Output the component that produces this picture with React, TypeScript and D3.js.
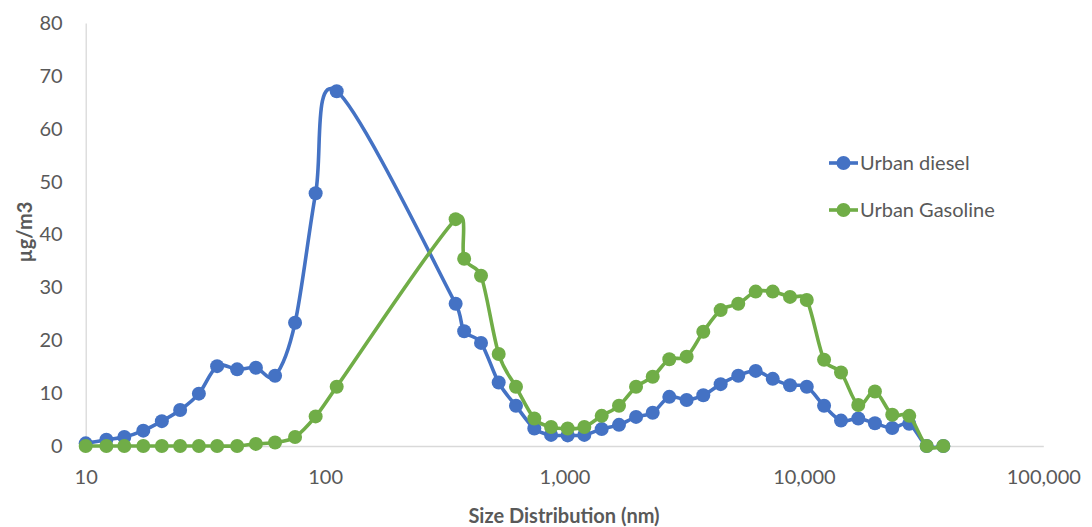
import { useEffect, useRef } from 'react';
import * as d3 from 'd3';

// particle size bins (nm), shared by both series
const sizes = [
  10, 12.2, 14.5, 17.4, 20.8, 24.8, 29.7, 35.4, 42.9, 51.4, 61.8, 74.9, 91.3, 111.8,
  351, 381, 448, 531, 627, 748, 879, 1031, 1210, 1430, 1689, 1990, 2336, 2740, 3237,
  3800, 4490, 5318, 6290, 7410, 8750, 10280, 12140, 14290, 16870, 19800, 23390, 27540,
  32570, 38220
];

const dieselValues = [
  0.5, 1.2, 1.7, 2.9, 4.7, 6.8, 9.9, 15.1, 14.5, 14.8, 13.3, 23.3, 47.8, 67.1,
  26.9, 21.7, 19.5, 12.0, 7.6, 3.3, 2.1, 2.0, 2.1, 3.2, 4.0, 5.5, 6.3, 9.3, 8.7,
  9.6, 11.7, 13.3, 14.2, 12.7, 11.5, 11.2, 7.6, 4.8, 5.2, 4.3, 3.4, 4.2,
  0, 0
];

const gasolineValues = [
  0, 0, 0, 0, 0, 0, 0, 0, 0, 0.4, 0.65, 1.7, 5.6, 11.2,
  42.9, 35.4, 32.2, 17.4, 11.2, 5.2, 3.6, 3.3, 3.6, 5.7, 7.6, 11.2, 13.1, 16.4, 16.9,
  21.6, 25.7, 26.9, 29.2, 29.2, 28.2, 27.6, 16.3, 13.9, 7.75, 10.3, 5.9, 5.7,
  0, 0
];

const xTicks = [10, 100, 1000, 10000, 100000];
const yTicks = [0, 10, 20, 30, 40, 50, 60, 70, 80];

const seriesNames = ['Urban diesel', 'Urban Gasoline'];
const seriesColors = ['#4472C4', '#70AD47'];

const FONT = 'Lato, "Open Sans", sans-serif';
const TEXT = '#595959';

// spreadsheet-style smoothed line: bezier handles of 1/6 of the neighbour chord,
// capped at half the segment length
function smoothCurve(context: d3.Path | CanvasRenderingContext2D) {
  let pts: [number, number][] = [];
  const dist = (a: [number, number], b: [number, number]) => Math.hypot(b[0] - a[0], b[1] - a[1]);
  return {
    areaStart() {},
    areaEnd() {},
    lineStart() { pts = []; },
    point(x: number, y: number) { pts.push([x, y]); },
    lineEnd() {
      const n = pts.length;
      if (!n) return;
      context.moveTo(pts[0][0], pts[0][1]);
      for (let i = 0; i < n - 1; i++) {
        const p0 = pts[Math.max(i - 1, 0)];
        const p1 = pts[i];
        const p2 = pts[i + 1];
        const p3 = pts[Math.min(i + 2, n - 1)];
        const d12 = dist(p1, p2);
        const d02 = dist(p0, p2);
        const d13 = dist(p1, p3);
        let f1 = 1 / 6;
        let f2 = 1 / 6;
        if (d02 / 6 > d12 / 2 && d02 > 0) f1 = d12 / d02 / 2;
        if (d13 / 6 > d12 / 2 && d13 > 0) f2 = d12 / d13 / 2;
        context.bezierCurveTo(
          p1[0] + (p2[0] - p0[0]) * f1, p1[1] + (p2[1] - p0[1]) * f1,
          p2[0] - (p3[0] - p1[0]) * f2, p2[1] - (p3[1] - p1[1]) * f2,
          p2[0], p2[1]
        );
      }
    }
  };
}

export default function App() {
  const svgRef = useRef<SVGSVGElement | null>(null);

  useEffect(() => {
    const svgElement = svgRef.current;
    if (!svgElement) return;
    const width = 1092;
    const height = 527;
    const svg = d3.select(svgElement);
    svg.selectAll('*').remove();
    svg.attr('viewBox', `0 0 ${width} ${height}`);

    const x = d3.scaleLog().domain([10, 100000]).range([85.7, 1043.3]);
    const y = d3.scaleLinear().domain([0, 80]).range([446, 23]);

    // axes
    const xAxis = svg.append('g').attr('transform', `translate(0,${y(0)})`)
      .call(d3.axisBottom(x).tickValues(xTicks).tickSize(0).tickPadding(24).tickFormat((d) => d3.format(',')(d as number)));
    const yAxis = svg.append('g').attr('transform', `translate(${x(10)},0)`)
      .call(d3.axisLeft(y).tickValues(yTicks).tickSize(0).tickPadding(23));
    [xAxis, yAxis].forEach((g) => {
      g.select('.domain').attr('stroke', '#d9d9d9').attr('stroke-width', 1.3);
      g.selectAll('text').attr('fill', TEXT).style('font-family', FONT).style('font-size', '20px');
    });

    svg.append('text').attr('x', 564).attr('y', 523).attr('text-anchor', 'middle')
      .attr('fill', TEXT).style('font-family', FONT).style('font-size', '20px').style('font-weight', 700)
      .text('Size Distribution (nm)');
    svg.append('text').attr('transform', 'rotate(-90)').attr('x', -232).attr('y', 32).attr('text-anchor', 'middle')
      .attr('fill', TEXT).style('font-family', FONT).style('font-size', '20px').style('font-weight', 700)
      .text('µg/m3');

    const line = d3.line<number>()
      .x((_, i) => x(sizes[i]))
      .y((d) => y(d))
      .curve(smoothCurve as unknown as d3.CurveFactory);

    [dieselValues, gasolineValues].forEach((values, s) => {
      const g = svg.append('g');
      g.append('path').attr('d', line(values) ?? '').attr('fill', 'none')
        .attr('stroke', seriesColors[s]).attr('stroke-width', 3.6).attr('stroke-linejoin', 'round');
      g.selectAll('circle').data(values).join('circle')
        .attr('cx', (_, i) => x(sizes[i]))
        .attr('cy', (d) => y(d))
        .attr('r', 7)
        .attr('fill', seriesColors[s]);
    });

    // legend
    const legend = svg.append('g').attr('transform', 'translate(829,163)');
    seriesNames.forEach((name, i) => {
      const row = legend.append('g').attr('transform', `translate(0,${i * 47})`);
      row.append('line').attr('x1', 0).attr('x2', 29).attr('y1', 0).attr('y2', 0)
        .attr('stroke', seriesColors[i]).attr('stroke-width', 3.6);
      row.append('circle').attr('cx', 14.5).attr('cy', 0).attr('r', 7).attr('fill', seriesColors[i]);
      row.append('text').attr('x', 31).attr('y', 0).attr('dy', '0.35em')
        .attr('fill', TEXT).style('font-family', FONT).style('font-size', '20px')
        .text(name);
    });
  }, []);

  return (
    <svg ref={svgRef} width={1092} height={527} style={{ position: 'absolute', left: 0, top: 0 }} role="img" aria-label="Size distribution chart" />
  );
}
